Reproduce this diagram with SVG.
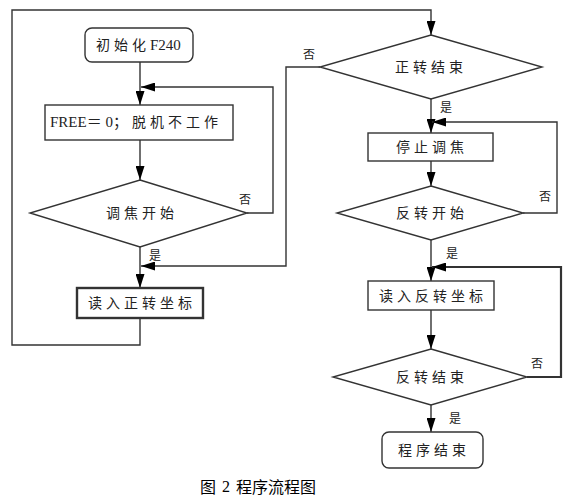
<svg xmlns="http://www.w3.org/2000/svg" width="580" height="504" viewBox="0 0 580 504">
<defs>
<marker id="ah" markerWidth="14" markerHeight="9" refX="14" refY="4.5" orient="auto" markerUnits="userSpaceOnUse">
<path d="M0,0 L14,4.5 L0,9 z" fill="#000"/>
</marker>
</defs>
<style>
.shape{fill:#fff;stroke:#333;stroke-width:1.4}
.bold{stroke-width:2.4}
.conn{fill:none;stroke:#333;stroke-width:1.4}
.t{font-family:"Liberation Serif","Noto Sans CJK SC",serif;font-size:14px;fill:#222;text-anchor:middle;dominant-baseline:central;letter-spacing:4px}
.ts{font-family:"Liberation Serif","Noto Sans CJK SC",serif;font-size:14px;fill:#222;dominant-baseline:central}
.lat{letter-spacing:0;font-size:15px}
.cjk{letter-spacing:4px}
.lbl{font-family:"Noto Sans CJK SC",sans-serif;font-size:12px;fill:#222;text-anchor:middle;dominant-baseline:central}
.cap{font-family:"Noto Sans CJK SC",sans-serif;font-size:16px;fill:#000;dominant-baseline:central}
</style>
<rect width="580" height="504" fill="#fff"/>
<g id="connectors">
<path class="conn" d="M140,62 V105" marker-end="url(#ah)"/>
<path class="conn" d="M140,140 V180" marker-end="url(#ah)"/>
<path class="conn" d="M247,213 H273 V87 H141" marker-end="url(#ah)"/>
<path class="conn" d="M140,247 V288" marker-end="url(#ah)"/>
<path class="conn" d="M320,67 H286 V266 H141" marker-end="url(#ah)"/>
<path class="conn" d="M140,318 V345 H12 V10 H431 V35" marker-end="url(#ah)"/>
<path class="conn" d="M431,99 V133" marker-end="url(#ah)"/>
<path class="conn" d="M431,161 V186" marker-end="url(#ah)"/>
<path class="conn" d="M523,213 H557 V122 H432" marker-end="url(#ah)"/>
<path class="conn" d="M431,240 V281" marker-end="url(#ah)"/>
<path class="conn" d="M431,310 V349" marker-end="url(#ah)"/>
<path class="conn" d="M527,377 H561 V267 H432" style="stroke-width:2.2" marker-end="url(#ah)"/>
<path class="conn" d="M431,405 V432" marker-end="url(#ah)"/>
<text class="lbl" x="245" y="198">否</text>
<text class="lbl" x="155" y="254">是</text>
<text class="lbl" x="309" y="53">否</text>
<text class="lbl" x="446" y="106">是</text>
<text class="lbl" x="545" y="195">否</text>
<text class="lbl" x="452" y="252">是</text>
<text class="lbl" x="537" y="362">否</text>
<text class="lbl" x="455" y="417">是</text>
</g>
<g id="start">
<rect class="shape" x="85" y="28" width="108" height="34" rx="7"/>
<text class="ts" x="96" y="45"><tspan class="cjk">初始化</tspan><tspan class="lat" dx="0">F240</tspan></text>
</g>
<g id="free">
<rect class="shape" x="45" y="105" width="188" height="35"/>
<text class="ts" x="50" y="122"><tspan class="lat">FREE＝ 0；</tspan><tspan class="cjk" dx="4">脱机不工作</tspan></text>
</g>
<g id="focus-start">
<polygon class="shape" points="140,180 247,213 140,247 30,213"/>
<text class="t" x="142" y="213">调焦开始</text>
</g>
<g id="read-forward">
<rect class="shape bold" x="77" y="288" width="126" height="30"/>
<text class="t" x="142" y="303">读入正转坐标</text>
</g>
<g id="forward-end">
<polygon class="shape" points="431,35 542,67 431,99 320,67"/>
<text class="t" x="431" y="67">正转结束</text>
</g>
<g id="stop-focus">
<rect class="shape" x="368" y="133" width="125" height="28"/>
<text class="t" x="432" y="147">停止调焦</text>
</g>
<g id="reverse-start">
<polygon class="shape" points="431,186 523,213 431,240 337,213"/>
<text class="t" x="432" y="213">反转开始</text>
</g>
<g id="read-reverse">
<rect class="shape" x="368" y="281" width="126" height="29"/>
<text class="t" x="433" y="296">读入反转坐标</text>
</g>
<g id="reverse-end">
<polygon class="shape" points="431,349 527,377 431,405 333,377"/>
<text class="t" x="432" y="377">反转结束</text>
</g>
<g id="end">
<rect class="shape" x="382" y="432" width="101" height="36" rx="7"/>
<text class="t" x="434" y="450">程序结束</text>
</g>
<text class="cap" x="200" y="486"><tspan>图</tspan><tspan dx="6" style="font-family:'Liberation Serif',serif">2</tspan><tspan dx="6">程序流程图</tspan></text>
</svg>
